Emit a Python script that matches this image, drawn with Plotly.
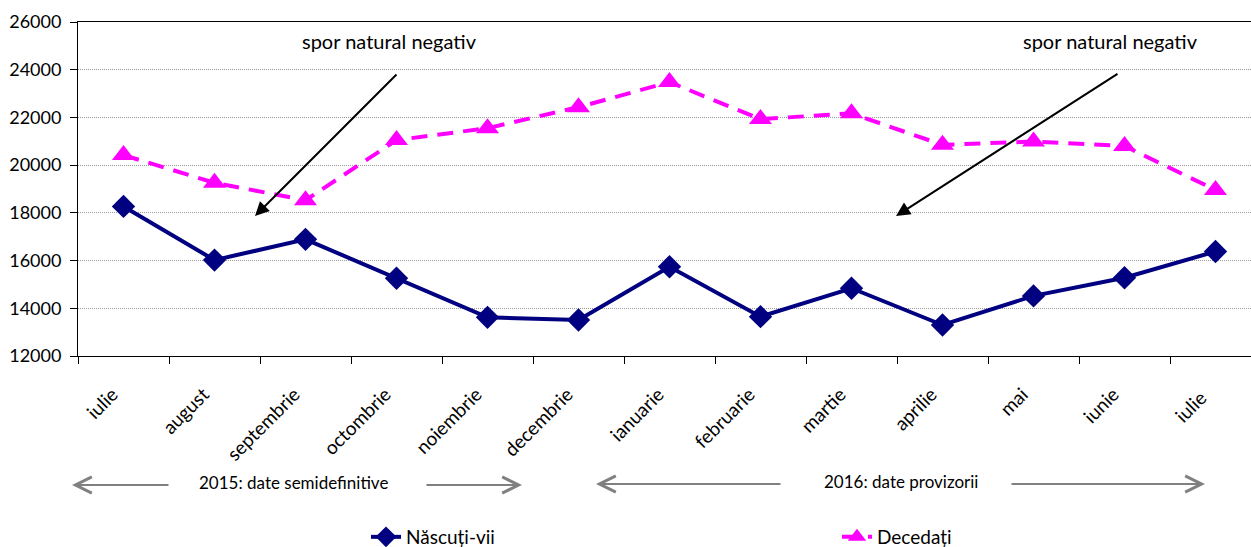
import plotly.graph_objects as go

luni = ["iulie", "august", "septembrie", "octombrie", "noiembrie", "decembrie",
        "ianuarie", "februarie", "martie", "aprilie", "mai", "iunie", "iulie "]
nascuti_vii = [18270, 16020, 16890, 15260, 13620, 13510, 15740,
               13650, 14840, 13300, 14520, 15280, 16380]
decedati = [20420, 19260, 18530, 21050, 21550, 22430, 23480,
            21930, 22170, 20850, 20990, 20800, 18960]

W, H = 1251, 547
L, T, R, B = 78, 22, 0, 191
PW, PH = W - L - R, H - T - B
FONT = "Lato"

def px_x(p):
    return (p - L) / PW

def px_y(p):
    return (T + PH - p) / PH

fig = go.Figure()
fig.add_trace(go.Scatter(
    x=luni, y=nascuti_vii, name="Născuți-vii", mode="lines+markers",
    line=dict(color="#000080", width=4),
    marker=dict(symbol="diamond", size=18, color="#000080")))
fig.add_trace(go.Scatter(
    x=luni, y=decedati, name="Decedați", mode="lines+markers",
    line=dict(color="#FF00FF", width=4, dash="16px,10px"),
    marker=dict(symbol="triangle-up", size=20, color="#FF00FF")))

ann = []
# "spor natural negativ" labels and black arrows
for tx, tail_x, tip_x in [(389, 398, 255), (1110, 1119, 896)]:
    ann.append(dict(xref="paper", yref="paper", x=px_x(tx), y=px_y(41),
                    xanchor="center", yanchor="middle",
                    text="spor natural negativ", showarrow=False,
                    font=dict(family=FONT, size=20, color="#000000")))
    ann.append(dict(xref="paper", yref="paper", x=px_x(tip_x), y=px_y(216),
                    ax=tail_x - tip_x, ay=73 - 216, axref="pixel", ayref="pixel",
                    text="", showarrow=True, arrowhead=2, arrowsize=1.4,
                    arrowwidth=2, arrowcolor="#000000"))

# period annotations below axis
def period(text, cx, y, left_tail, left_head, right_tail, right_head):
    ann.append(dict(xref="paper", yref="paper", x=px_x(cx), y=px_y(y),
                    xanchor="center", yanchor="middle",
                    text=text, showarrow=False,
                    font=dict(family=FONT, size=17, color="#000000")))
    ann.append(dict(xref="paper", yref="paper", x=px_x(left_head), y=px_y(y + 3),
                    ax=left_tail - left_head, ay=0, axref="pixel", ayref="pixel",
                    text="", showarrow=True, arrowhead=5, arrowsize=1.6,
                    arrowwidth=2, arrowcolor="#808080"))
    ann.append(dict(xref="paper", yref="paper", x=px_x(right_head), y=px_y(y + 3),
                    ax=right_tail - right_head, ay=0, axref="pixel", ayref="pixel",
                    text="", showarrow=True, arrowhead=5, arrowsize=1.6,
                    arrowwidth=2, arrowcolor="#808080"))

period("2015: date semidefinitive", 293, 482, 170, 72, 425, 522)
period("2016: date provizorii", 901, 481, 782, 596, 1010, 1205)

fig.update_layout(
    width=W, height=H,
    margin=dict(l=L, r=R, t=T, b=B, autoexpand=False),
    paper_bgcolor="white", plot_bgcolor="white",
    font=dict(family=FONT, size=18, color="#000000"),
    showlegend=True,
    legend=dict(orientation="h", x=px_x(366), xanchor="left",
                y=px_y(537), yanchor="middle",
                entrywidth=426, entrywidthmode="pixels",
                font=dict(family=FONT, size=19, color="#000000"),
                bgcolor="rgba(0,0,0,0)"),
    annotations=ann,
)
fig.update_xaxes(
    type="category", range=[-0.5, -0.5 + PW / 91.0], automargin=False,
    showline=True, linecolor="#000000", linewidth=1, mirror=True,
    ticks="outside", tickson="boundaries", ticklen=7, tickcolor="#000000",
    tickangle=-45, ticklabelstandoff=19, ticklabelshift=-11,
    tickfont=dict(family=FONT, size=19, color="#000000"),
    showgrid=False, zeroline=False)
fig.update_yaxes(
    range=[12000, 26000], dtick=2000, tickformat="d", automargin=False,
    showline=True, linecolor="#000000", linewidth=1,
    ticks="outside", ticklen=7, tickcolor="#000000", ticklabelstandoff=5,
    tickfont=dict(family=FONT, size=18, color="#000000"),
    showgrid=True, gridcolor="#999999", griddash="1px,1px", gridwidth=1,
    zeroline=False)

fig.write_html("out.html",
               config={"displayModeBar": False},
               post_script="document.body.style.margin='0';"
                           "document.body.style.overflow='hidden';")
